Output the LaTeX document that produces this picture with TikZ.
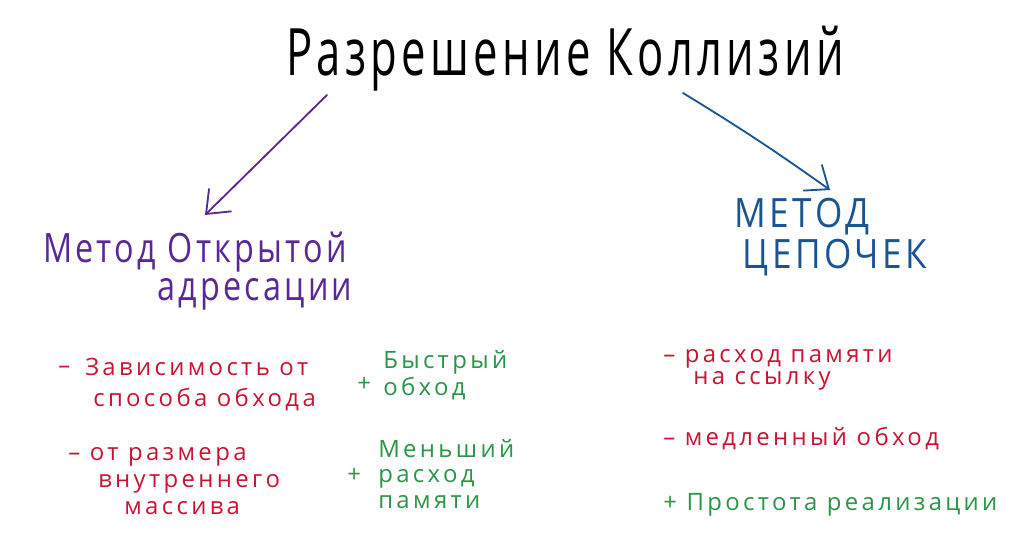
\documentclass[tikz,border=0pt]{standalone}
\usepackage{fontspec}
\setmainfont{Open Sans}
\usetikzlibrary{arrows.meta,positioning}
\definecolor{penpurple}{RGB}{88,40,150}
\definecolor{penblue}{RGB}{25,85,145}
\definecolor{penred}{RGB}{200,20,50}
\definecolor{pengreen}{RGB}{40,150,70}
\newcommand{\tallpen}[2]{\scalebox{1}[#1]{#2}}

\begin{document}
\begin{tikzpicture}[x=0.025cm,y=-0.025cm,
		word/.style={anchor=base west, inner sep=0pt, align=left, font=\fontsize{17}{#1}\selectfont\addfontfeatures{LetterSpace=14}},
		word/.default=20,
		head/.style={anchor=base, inner sep=0pt, font=\fontsize{#1}{#1}\selectfont\addfontfeatures{LetterSpace=10}},
		head/.default=23,
		pen/.style={line width=1.3pt, line cap=round, -{Straight Barb[length=5mm,width=8mm,line width=1.3pt]}}]
			\useasboundingbox (0,0) rectangle (1016,537);

			\node[anchor=base, inner sep=0pt, font=\fontsize{31}{34}\selectfont\addfontfeatures{LetterSpace=10}] (title) at (565,76) {\tallpen{1.5}{Разрешение Коллизий}};

			% two ways
			\node[head, text=penpurple] (open) at (195,262) {\tallpen{1.25}{Метод Открытой}};
			\node[head, text=penpurple] (openb) at (255,300) {\tallpen{1.25}{адресации}};
			\node[head=25, text=penblue] (chain) at (802,228) {\tallpen{1.15}{МЕТОД}};
			\node[head=25, text=penblue] (chainb) at (835,268) {\tallpen{1.15}{ЦЕПОЧЕК}};

			\coordinate (la) at (327,95);
			\coordinate (lb) at (205,215);
			\coordinate (ra) at (683,93);
			\coordinate (rb) at (830,190);
			\draw[pen, penpurple] (la) -- (lb);
			\draw[pen, penblue] (ra) to[bend left=2] (rb);

			% open addressing (base = last line)
			\node[word, text=penred] (m1s) at (58,373) {–};
			\node[word=22, text=penred] (m1) at (85,406) {Зависимость от\\\hspace{0.2cm}способа обхода};
			\node[word=19, text=penred] (m2) at (68,514) {– от размера\\\hspace{0.75cm}внутреннего\\\hspace{1.4cm}массива};

			\node[word=19, text=pengreen] (p1) at (383,395) {Быстрый\\обход};
			\node[word, text=pengreen] (p1s) at (357,391) {+};
			\node[word=18, text=pengreen] (p2) at (378,508) {Меньший\\расход\\памяти};
			\node[word, text=pengreen] (p2s) at (347,482) {+};

			% chaining
			\node[word=15.5, text=penred] (r1) at (663,384) {– расход памяти\\\hspace{0.75cm}на ссылку};
			\node[word, text=penred] (r2) at (663,445) {– медленный обход};
			\node[word, text=pengreen] (r3) at (663,510) {+ Простота реализации};
		\end{tikzpicture}
\end{document}
